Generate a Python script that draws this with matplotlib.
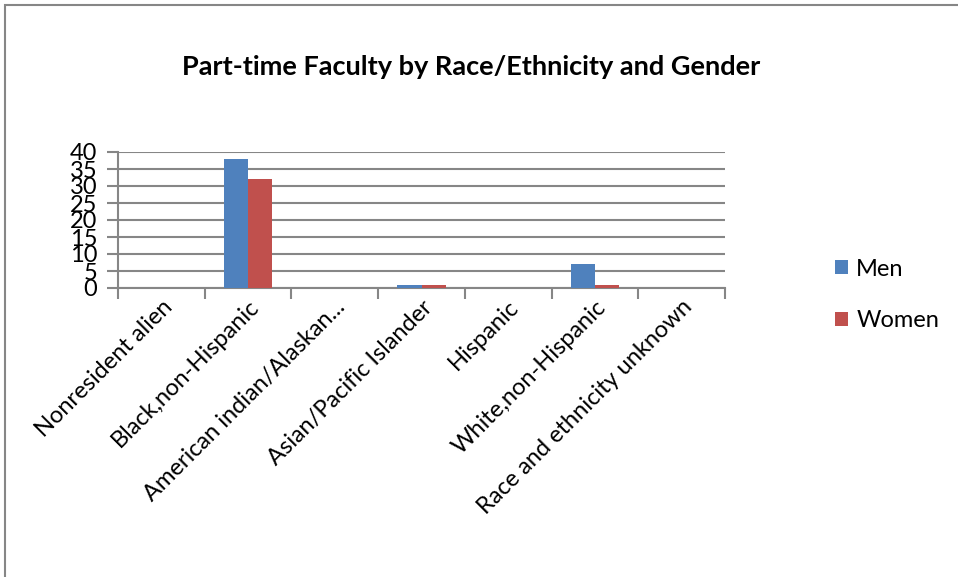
import matplotlib.pyplot as plt
import numpy as np
from matplotlib.patches import Rectangle

categories = ["Nonresident alien", "Black,non-Hispanic", "American indian/Alaskan...",
              "Asian/Pacific Islander", "Hispanic", "White,non-Hispanic",
              "Race and ethnicity unknown"]
men = [0, 38, 0, 1, 0, 7, 0]
women = [0, 32, 0, 1, 0, 1, 0]
yticks = [0, 5, 10, 15, 20, 25, 30, 35, 40]

plt.rcParams['font.family'] = ['Lato', 'DejaVu Sans']

fig = plt.figure(figsize=(9.58, 5.77), dpi=100)
ax = fig.add_axes([118/958, 1-288/577, 607/958, 136/577])

x = np.arange(len(categories))
w = 0.28
ax.bar(x - w/2, men, width=w, color="#4F81BD", label="Men", zorder=3)
ax.bar(x + w/2, women, width=w, color="#C0504D", label="Women", zorder=3)

ax.set_xlim(-0.5, len(categories) - 0.5)
ax.set_ylim(0, 40)
ax.set_yticks(yticks)
ax.set_yticklabels([str(t) for t in yticks], fontsize=17)
ax.set_xticks(np.arange(len(categories) + 1) - 0.5, minor=False)
ax.set_xticklabels([])
ax.set_xticks(x, minor=True)
ax.set_xticklabels(categories, minor=True, rotation=45, ha="right", rotation_mode="anchor", fontsize=17)
ax.tick_params(axis="x", which="minor", length=0, pad=6)
ax.tick_params(axis="x", which="major", length=8, width=1.5, color="#868686")
ax.tick_params(axis="y", length=8, width=1.5, color="#868686", pad=7)

ax.grid(axis="y", color="#868686", linewidth=1.5, zorder=0)
for s in ["top", "right"]:
    ax.spines[s].set_visible(False)
for s in ["left", "bottom"]:
    ax.spines[s].set_color("#868686")
    ax.spines[s].set_linewidth(1.5)

fig.text(471/958, 1-67/577, "Part-time Faculty by Race/Ethnicity and Gender",
         ha="center", va="center", fontsize=19.5, fontweight="bold")

fig.legend(loc="center left", bbox_to_anchor=(835/958, 1-295/577), frameon=False,
           fontsize=17, handlelength=0.55, handleheight=0.55, handletextpad=0.35,
           labelspacing=1.3, borderpad=0, borderaxespad=0)

fig.patches.append(Rectangle((5/958, -0.1), 1.2, 1 - 5/577 + 0.1, transform=fig.transFigure,
                             fill=False, edgecolor="#868686", linewidth=1.5))

fig.savefig("out.png", dpi=100)
